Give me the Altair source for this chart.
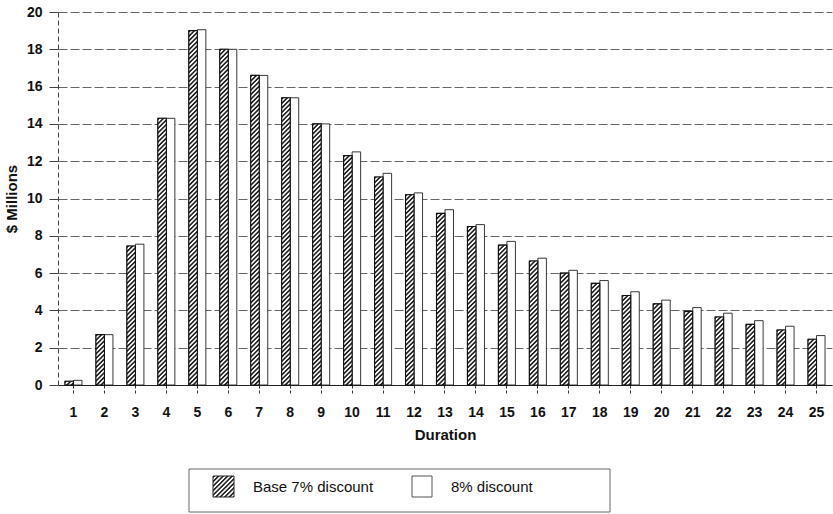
import base64
import altair as alt
import pandas as pd

# Present value by duration, $ millions
durations = list(range(1, 26))
base_7 = [0.2, 2.7, 7.45, 14.3, 19.0, 18.0, 16.6, 15.4, 14.0, 12.3, 11.15, 10.2, 9.2,
          8.5, 7.5, 6.65, 6.0, 5.45, 4.8, 4.35, 3.95, 3.65, 3.25, 2.95, 2.45]
disc_8 = [0.25, 2.7, 7.55, 14.3, 19.05, 18.0, 16.6, 15.4, 14.0, 12.5, 11.35, 10.3, 9.4,
          8.6, 7.7, 6.8, 6.15, 5.6, 5.0, 4.55, 4.15, 3.85, 3.45, 3.15, 2.65]
series_names = ["Base 7% discount", "8% discount"]
y_ticks = list(range(0, 21, 2))

FONT = "Liberation Sans"

# Diagonal hatch tile, drawn at the size of whatever box it fills
hatch_svg = (
    '<svg xmlns="http://www.w3.org/2000/svg">'
    '<defs><pattern id="h" width="3.2" height="3.2" patternUnits="userSpaceOnUse" '
    'patternTransform="rotate(45)">'
    '<rect width="3.2" height="3.2" fill="white"/>'
    '<line x1="0.8" y1="0" x2="0.8" y2="3.2" stroke="#111" stroke-width="1.5"/>'
    '</pattern></defs>'
    '<rect width="100%" height="100%" fill="url(#h)"/></svg>'
)
hatch_url = "data:image/svg+xml;base64," + base64.b64encode(hatch_svg.encode()).decode()

rows = []
for d, a, b in zip(durations, base_7, disc_8):
    rows.append({"Duration": d, "series": series_names[0], "value": a, "url": hatch_url})
    rows.append({"Duration": d, "series": series_names[1], "value": b, "url": ""})
df = pd.DataFrame(rows)

x_enc = alt.X(
    "Duration:O",
    scale=alt.Scale(paddingInner=0.45, paddingOuter=0.225),
    axis=alt.Axis(
        title="Duration", labelAngle=0, labelFont=FONT, labelFontSize=14,
        labelFontWeight="bold", labelColor="#111", titleFont=FONT, titleFontSize=15,
        titleFontWeight="bold", titleColor="#111", titlePadding=8,
        tickSize=9, tickColor="#333", tickDash=[3, 2], labelPadding=11,
        domainColor="#222", domainWidth=1,
    ),
)
off_enc = alt.XOffset("series:N", scale=alt.Scale(domain=series_names), sort=series_names)
y_enc = alt.Y(
    "value:Q",
    scale=alt.Scale(domain=[0, 20], nice=False),
    axis=alt.Axis(
        title="$ Millions", values=y_ticks, tickCount=len(y_ticks), labelOverlap=False,
        labelFont=FONT, labelFontSize=14, labelFontWeight="bold", labelColor="#111",
        titleFont=FONT, titleFontSize=15, titleFontWeight="bold", titleColor="#111",
        titlePadding=7, tickSize=9, tickColor="#444", labelPadding=7,
        grid=True, gridColor="#666", gridDash=[9, 3], gridWidth=1,
        domainColor="#444", domainDash=[5, 3],
    ),
)

bars = alt.Chart(df).mark_bar(fill="white", stroke="#222", strokeWidth=0.9).encode(
    x=x_enc, xOffset=off_enc, y=y_enc, y2=alt.datum(0)
)

hatched = alt.Chart(df).transform_filter(
    alt.datum.series == series_names[0]
).mark_image(aspect=False).encode(
    x=x_enc, xOffset=off_enc, y=y_enc, y2=alt.datum(0), url="url:N",
)

hatched_edge = alt.Chart(df).transform_filter(
    alt.datum.series == series_names[0]
).mark_bar(fill="transparent", stroke="#111", strokeWidth=1.1).encode(
    x=x_enc, xOffset=off_enc, y=y_enc, y2=alt.datum(0)
)

# Legend box drawn below the axis title
legend_df = pd.DataFrame({"label": series_names, "url": [hatch_url, ""]})
first = alt.datum.label == series_names[0]
second = alt.datum.label == series_names[1]

legend_frame = alt.Chart(legend_df).transform_filter(first).mark_rect(
    fill="white", stroke="#666", strokeWidth=1
).encode(x=alt.value(131), x2=alt.value(552), y=alt.value(457), y2=alt.value(500))

swatch_hatch = alt.Chart(legend_df).transform_filter(first).mark_image(
    aspect=False, width=21, height=21, align="left", baseline="top"
).encode(x=alt.value(155), y=alt.value(464), url="url:N")

swatch_hatch_edge = alt.Chart(legend_df).transform_filter(first).mark_rect(
    fill="transparent", stroke="#222", strokeWidth=1
).encode(x=alt.value(155), x2=alt.value(176), y=alt.value(464), y2=alt.value(485))

swatch_white = alt.Chart(legend_df).transform_filter(second).mark_rect(
    fill="white", stroke="#555", strokeWidth=1
).encode(x=alt.value(354), x2=alt.value(374), y=alt.value(464), y2=alt.value(485))

text_style = dict(align="left", baseline="middle", font=FONT, fontSize=15, color="#111")
legend_text_1 = alt.Chart(legend_df).transform_filter(first).mark_text(**text_style).encode(
    x=alt.value(195), y=alt.value(475), text="label:N"
)
legend_text_2 = alt.Chart(legend_df).transform_filter(second).mark_text(**text_style).encode(
    x=alt.value(393), y=alt.value(475), text="label:N"
)

chart = alt.layer(
    bars, hatched, hatched_edge,
    legend_frame, swatch_hatch, swatch_hatch_edge, swatch_white,
    legend_text_1, legend_text_2,
).properties(
    width=774, height=373,
    padding={"left": 58, "top": 12, "right": 1, "bottom": 129},
    autosize=alt.AutoSizeParams(type="none"),
    background="white",
).configure_view(stroke=None)

chart.save("out.html", embed_options={"renderer": "svg", "actions": False})
